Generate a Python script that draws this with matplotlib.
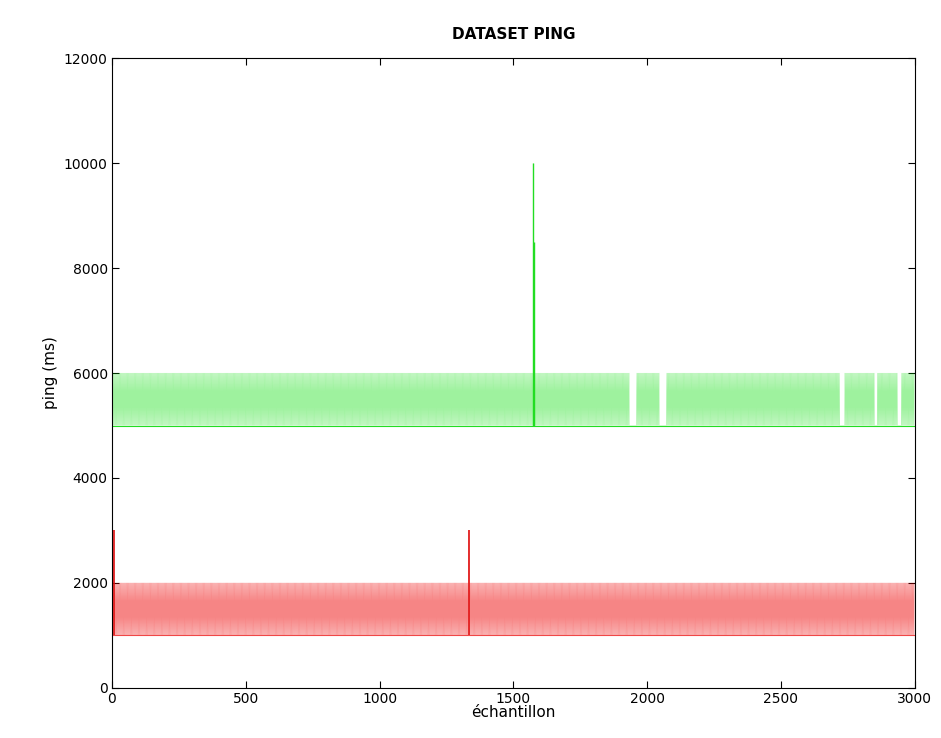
import matplotlib.pyplot as plt
import numpy as np

# données
n_samples = 3000

green_low, green_high = 5000, 6000
green_gaps = [(1935, 1961), (2047, 2073), (2720, 2738), (2850, 2861), (2936, 2951)]
green_spikes = {1575: 10000, 1577: 8500}

red_low, red_high = 1000, 2000
red_gaps = []
red_spikes = {6: 3000, 1334: 3000}

x_ticks = [0, 500, 1000, 1500, 2000, 2500, 3000]
y_ticks = [0, 2000, 4000, 6000, 8000, 10000, 12000]


def build_series(low, high, gaps, spikes):
    idx = np.arange(n_samples)
    vals = np.where(idx % 2 == 0, low, high).astype(float)
    for a, b in gaps:
        vals[a:b] = low
    for k, v in spikes.items():
        vals[k] = v
    return idx, vals


xg, yg = build_series(green_low, green_high, green_gaps, green_spikes)
xr, yr = build_series(red_low, red_high, red_gaps, red_spikes)

fig = plt.figure(figsize=(9.41, 7.38), dpi=100)
axe = fig.add_axes([0.119, 0.068, 0.853, 0.853])

axe.plot(xg, yg, color="#00dd00", lw=0.25, alpha=0.38)
axe.plot(xr, yr, color="#ee0000", lw=0.25, alpha=0.48)

# les pics ressortent plus nettement sur l'original
axe.vlines(list(green_spikes), green_low, list(green_spikes.values()),
           color="#22dd22", lw=1.0)
axe.vlines(list(red_spikes), red_low, list(red_spikes.values()),
           color="#e01010", lw=1.2)
axe.hlines([green_low], 0, n_samples, color="#22dd22", lw=0.8)
axe.hlines([red_low], 0, n_samples, color="#ee2222", lw=0.8, alpha=0.8)

axe.set_xlim(0, 3000)
axe.set_ylim(0, 12000)
axe.set_xticks(x_ticks)
axe.set_yticks(y_ticks)
axe.tick_params(direction="in", top=True, right=True, labelsize=10, length=5, pad=3)

axe.set_title("DATASET PING", fontsize=11, fontweight="bold", pad=14)
axe.set_xlabel("échantillon", fontsize=11, labelpad=-1)
axe.set_ylabel("ping (ms)", fontsize=11, labelpad=4)

fig.savefig("out.png", dpi=100)
